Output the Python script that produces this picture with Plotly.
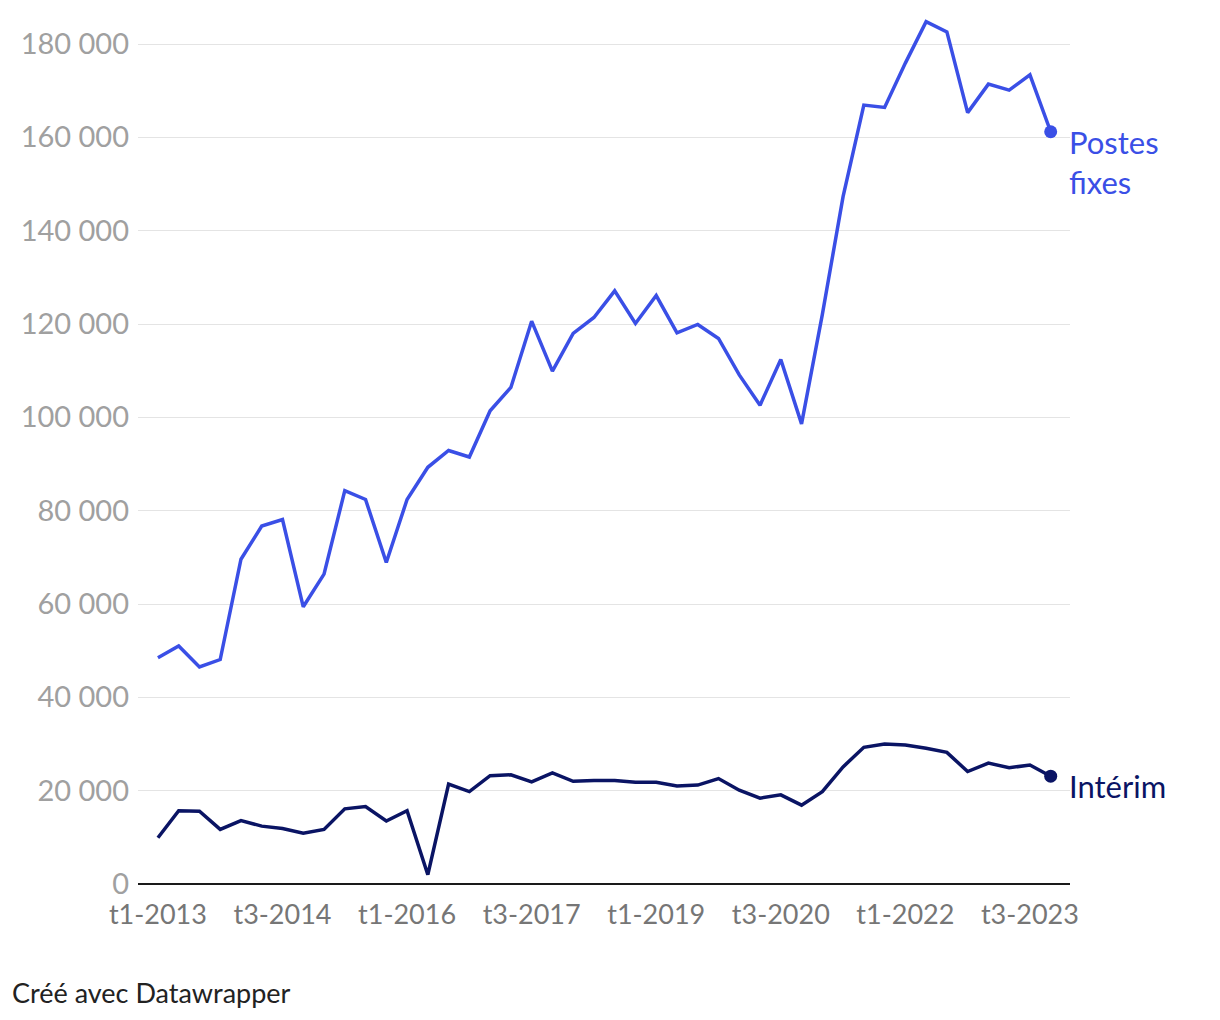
import plotly.graph_objects as go

# quarters t1-2013 .. t4-2023
quarters = [f"t{q}-{y}" for y in range(2013, 2024) for q in range(1, 5)]

postes_fixes = [48500, 51000, 46500, 48100, 69600, 76700, 78100, 59400, 66400, 84300,
                82400, 68900, 82400, 89300, 92900, 91500, 101400, 106400, 120600, 109900,
                118000, 121400, 127100, 120100, 126100, 118100, 119900, 116900, 109100, 102600,
                112400, 98600, 122000, 147300, 166900, 166400, 175900, 184800, 182600, 165300,
                171400, 170100, 173400, 161200]

interim = [9900, 15700, 15600, 11700, 13600, 12400, 11900, 10900, 11700, 16100,
           16600, 13500, 15700, 2000, 21400, 19800, 23200, 23400, 21900, 23800,
           22000, 22200, 22200, 21800, 21800, 21000, 21200, 22600, 20100, 18400,
           19100, 16900, 19800, 25100, 29300, 30000, 29800, 29100, 28200, 24100,
           25900, 24900, 25500, 23100]

y_ticks = [0, 20000, 40000, 60000, 80000, 100000, 120000, 140000, 160000, 180000]
y_ticktext = ["0", "20 000", "40 000", "60 000", "80 000", "100 000",
              "120 000", "140 000", "160 000", "180 000"]
x_ticks = quarters[::6]

BLUE = "#3a4fe6"
NAVY = "#0a1464"
FONT = "Lato"

fig = go.Figure()

for vals, color in [(postes_fixes, BLUE), (interim, NAVY)]:
    fig.add_trace(go.Scatter(
        x=quarters, y=vals, mode="lines",
        line=dict(color=color, width=3.5),
        hoverinfo="skip", showlegend=False,
    ))
    # end dot
    fig.add_trace(go.Scatter(
        x=[quarters[-1]], y=[vals[-1]], mode="markers",
        marker=dict(color=color, size=13),
        hoverinfo="skip", showlegend=False, cliponaxis=False,
    ))

fig.add_annotation(x=quarters[-1], y=postes_fixes[-1], text="Postes<br>fixes",
                   xanchor="left", yanchor="middle", xshift=16, yshift=-30, showarrow=False,
                   align="left", font=dict(family=FONT, size=31, color=BLUE))
fig.add_annotation(x=quarters[-1], y=interim[-1], text="Intérim",
                   xanchor="left", yanchor="middle", xshift=16, yshift=-10, showarrow=False,
                   align="left", font=dict(family=FONT, size=31, color=NAVY))
fig.add_annotation(x=-0.1373, y=-0.1244, xref="paper", yref="paper", text="Créé avec Datawrapper",
                   xanchor="left", yanchor="middle", showarrow=False,
                   font=dict(family=FONT, size=27, color="#222222"))

# page body adds 8px, so the figure is 8px smaller than the window
fig.update_layout(
    width=1212, height=1012,
    margin=dict(l=130, r=150, t=0, b=136),
    paper_bgcolor="white", plot_bgcolor="white",
    font=dict(family=FONT),
    xaxis=dict(
        type="category", categoryorder="array", categoryarray=quarters,
        range=[-0.96, 43.93],
        tickmode="array", tickvals=x_ticks, ticktext=x_ticks,
        tickfont=dict(size=27, color="#767676"),
        showgrid=False, zeroline=False, showline=False, ticks="",
        ticklabelstandoff=12,
    ),
    yaxis=dict(
        range=[0, 187714],
        tickmode="array", tickvals=y_ticks, ticktext=y_ticktext,
        tickfont=dict(size=29, color="#a0a0a0"),
        showgrid=True, gridcolor="#e4e4e4", gridwidth=1,
        zeroline=True, zerolinecolor="#1a1a1a", zerolinewidth=2,
        showline=False, ticks="", ticklabelstandoff=8,
    ),
)

fig.write_html("out.html", config={"displayModeBar": False})
